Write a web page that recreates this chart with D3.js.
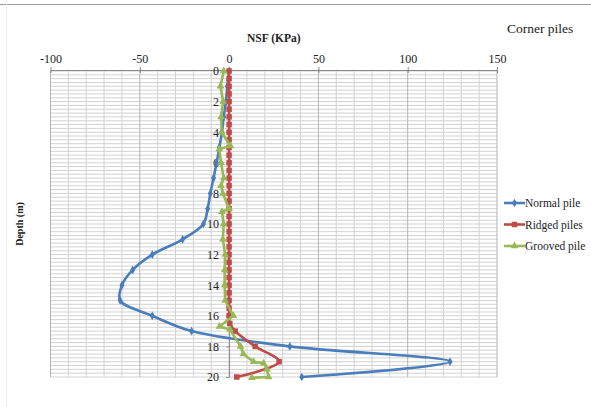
<!DOCTYPE html>
<html><head><meta charset="utf-8">
<script src="https://cdn.jsdelivr.net/npm/d3@7"></script>
<style>
body{margin:0;background:#fff;}
svg{display:block;font-family:"Liberation Serif","Times New Roman",serif;}
</style></head>
<body>
<svg id="chart" width="591" height="407"></svg>
<script>
// ---- data ----
const xTicks = [-100, -50, 0, 50, 100, 150];
const yTicks = [0, 2, 4, 6, 8, 10, 12, 14, 16, 18, 20];
const seriesNames = ["Normal pile", "Ridged piles", "Grooved pile"];

const normalDepth = [0,1,2,3,4,5,6,7,8,9,10,11,12,13,14,15,16,17,18,19,20];
const normalNSF   = [0,-1,-1.8,-3,-4,-5.5,-7,-8.7,-10.5,-12,-14.4,-26,-43,-54,-60,-61,-43,-21,34,123.7,40.7];

const ridgedDepth = [0,0.5,1,1.5,2,2.5,3,3.5,4,4.5,5,5.5,6,6.5,7,7.5,8,8.5,9,9.5,10,10.5,11,11.5,12,12.5,13,13.5,14,14.5,15,15.5,16,16.5,17,18,19,20];
const ridgedNSF   = [0,0,0,0,0,0,0,0,0,0,0,0,0,0,0,0,0,0,0,0,0,0,0,0,0,0,0,0,0,0,0,0,0,0.4,3.4,14.6,28,4.3];

const groovedDepth = [0,1,2,3,4,4.9,5.1,6,7,7.5,8,9,9.2,10,11,12,13,14,15,16,16.7,16.9,18,18.5,19,19.1,19.5,20,20.05];
const groovedNSF   = [-3,-4.8,-3.3,-4.5,-4.2,0.8,-5.5,-4.5,-3,-4.5,-3.5,0,-4,-3,-3.5,-2.2,-2.5,-2.5,-2.2,2.4,-5.4,0.5,6.4,8,13.7,19.3,21.2,22.1,12.7];

// ---- layout ----
const svg = d3.select("#chart");
const x = d3.scaleLinear().domain([-100, 150]).range([50.5, 497]);
const y = d3.scaleLinear().domain([0, 20]).range([71, 377]);
const colors = ["#4a7ebb", "#be4b48", "#98b954"];

// chart border (top, left)
svg.append("line").attr("x1",0).attr("x2",591).attr("y1",4.5).attr("y2",4.5).attr("stroke","#9a9a9a").attr("stroke-width",1.2);
svg.append("line").attr("x1",6.5).attr("x2",6.5).attr("y1",4).attr("y2",407).attr("stroke","#eeeeee").attr("stroke-width",1);

// horizontal grid every 0.25 m
const g = svg.append("g");
g.selectAll("line.h").data(d3.range(0, 20.001, 0.25)).join("line")
  .attr("x1", x(-100)).attr("x2", x(150))
  .attr("y1", d => y(d)).attr("y2", d => y(d))
  .attr("stroke", "#d2d2d2").attr("stroke-width", 1);
// vertical grid every 10
g.selectAll("line.v").data(d3.range(-100, 150.001, 10)).join("line")
  .attr("x1", d => x(d)).attr("x2", d => x(d))
  .attr("y1", y(0)).attr("y2", y(20))
  .attr("stroke", d => d % 50 === 0 ? "#b4b4b4" : "#d2d2d2").attr("stroke-width", 1);

// top x axis
const xAxis = svg.append("g").attr("transform", `translate(0,${y(0)-1})`)
  .call(d3.axisTop(x).tickValues(xTicks).tickSizeInner(4).tickSizeOuter(0).tickPadding(3).tickFormat(d3.format("d")));
xAxis.select(".domain").attr("stroke", "#868686").attr("stroke-width", 1.2);
xAxis.selectAll(".tick line").attr("stroke", "#868686").attr("y2", 3).attr("y1", -3);
xAxis.selectAll(".tick text").attr("font-family", "Liberation Serif, serif").attr("font-size", 12).attr("fill", "#222")
  .text(d => d < 0 ? "-" + Math.abs(d) : d);

// y axis at x=0
const yAxis = svg.append("g").attr("transform", `translate(${x(0)},0)`)
  .call(d3.axisLeft(y).tickValues(yTicks).tickSizeInner(3).tickSizeOuter(0).tickPadding(7));
yAxis.select(".domain").attr("stroke", "#8a8a8a").attr("stroke-width", 1);
yAxis.selectAll(".tick line").attr("stroke", "#8a8a8a");
yAxis.selectAll(".tick text").attr("font-family", "Liberation Serif, serif").attr("font-size", 12).attr("fill", "#222");

// titles
svg.append("text").attr("x", (x(-100)+x(150))/2).attr("y", 42).attr("text-anchor","middle")
  .attr("font-weight","bold").attr("font-size", 11.5).attr("fill","#222").text("NSF (KPa)");
svg.append("text").attr("x", 507).attr("y", 33).attr("font-size", 13.5).attr("fill","#222").text("Corner piles");
svg.append("text").attr("transform", `translate(23,${(y(0)+y(20))/2}) rotate(-90)`).attr("text-anchor","middle")
  .attr("font-weight","bold").attr("font-size", 10).attr("fill","#222").text("Depth (m)");

// series
const series = [
  {name: seriesNames[0], d: normalDepth, v: normalNSF, curve: d3.curveCatmullRom.alpha(0.5), marker: "diamond"},
  {name: seriesNames[1], d: ridgedDepth, v: ridgedNSF, curve: d3.curveCatmullRom.alpha(0.5), marker: "square"},
  {name: seriesNames[2], d: groovedDepth, v: groovedNSF, curve: d3.curveLinear, marker: "triangle"}
];
const symType = {diamond: d3.symbolDiamond, square: d3.symbolSquare, triangle: d3.symbolTriangle};
const symSize = {diamond: 22, square: 30, triangle: 26};

series.forEach((s, i) => {
  const pts = s.d.map((dd, k) => [s.v[k], dd]);
  svg.append("path").datum(pts)
    .attr("d", d3.line().x(p => x(p[0])).y(p => y(p[1])).curve(s.curve))
    .attr("fill","none").attr("stroke", colors[i]).attr("stroke-width", 2.6).attr("stroke-linejoin","round");
  svg.append("g").selectAll("path").data(pts).join("path")
    .attr("transform", p => `translate(${x(p[0])},${y(p[1])})`)
    .attr("d", d3.symbol().type(symType[s.marker]).size(symSize[s.marker]))
    .attr("fill", colors[i]);
});

// legend
const leg = svg.append("g");
[203, 224.5, 246].forEach((ly, i) => {
  leg.append("line").attr("x1", 504).attr("x2", 525).attr("y1", ly).attr("y2", ly)
    .attr("stroke", colors[i]).attr("stroke-width", 2.6);
  leg.append("path").attr("transform", `translate(514.5,${ly})`)
    .attr("d", d3.symbol().type(symType[series[i].marker]).size(symSize[series[i].marker]))
    .attr("fill", colors[i]);
  leg.append("text").attr("x", 525).attr("y", ly + 4).attr("font-size", 11.5).attr("fill","#222").text(seriesNames[i]);
});
</script>
</body></html>
